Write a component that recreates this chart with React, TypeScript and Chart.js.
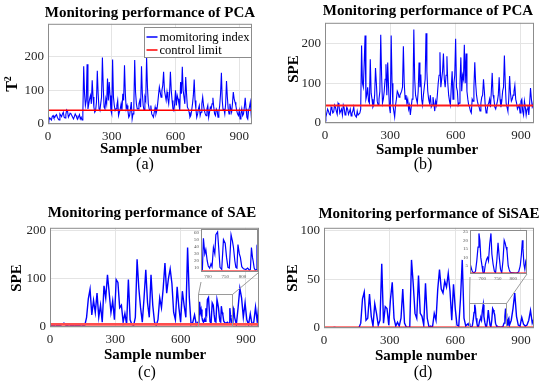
import React, { useEffect, useRef } from 'react';
import { Chart, registerables } from 'chart.js';

Chart.register(...registerables);

const SERIF = '"Liberation Serif", "Times New Roman", Times, serif';
const STEP = 8;
const X_MAX = 960;
const xTickValues = [0, 300, 600, 900];
const insetXTicks = [700, 750, 800];

// readings at sample numbers 0, 8, 16, ... 960
const pcaT2Values = [
  5, 18, 12, 25, 20, 28, 15, 30, 22, 35, 18, 42, 20, 32, 25, 15, 30, 18, 22, 15, 12,
  172, 55, 178, 60, 85, 130, 50, 40, 158, 45,
  60, 198, 50, 75, 135, 125, 40, 192, 55, 45,
  70, 35, 60, 90, 175, 45, 40, 25, 65, 30,
  190, 60, 45, 70, 172, 55, 80, 198, 60, 40,
  30, 20, 50, 40, 85, 95, 100, 155, 85, 95,
  60, 155, 70, 40, 100, 85, 60, 125, 170, 80,
  140, 50, 35, 25, 60, 132, 45, 30, 55, 35,
  80, 40, 25, 55, 35, 45, 78, 30, 45, 20,
  55, 152, 40, 30, 128, 45, 60, 35, 95, 65,
  40, 25, 15, 45, 30, 78, 20, 40, 65, 45,
];
// readings at sample numbers 4, 12, 20, ... 956
const pcaT2Mids = [
  10, 15, 22, 18, 25, 20, 12, 26, 30, 20, 28, 38, 25, 30, 20, 22, 25, 15, 28, 20,
  30,
  90, 70, 45, 75, 60, 80, 35, 65, 90, 40,
  80, 110, 45, 60, 70, 85, 30, 80, 40, 55,
  25, 45, 40, 70, 90, 55, 20, 45, 15, 55,
  95, 45, 60, 50, 90, 40, 70, 110, 45, 55,
  25, 35, 30, 60, 110, 80, 115, 100, 70, 75,
  90, 100, 45, 60, 55, 75, 40, 90, 100, 60,
  90, 45, 20, 40, 85, 70, 20, 45, 25, 60,
  55, 30, 45, 20, 50, 60, 50, 25, 40, 35,
  90, 70, 45, 60, 80, 30, 45, 60, 75, 55,
  30, 40, 30, 25, 50, 45, 15, 50, 30,
];

const pcaSpeValues = [
  5, 25, 30, 20, 35, 28, 40, 22, 45, 30, 20, 38, 25, 35, 28, 18, 30, 22, 15, 20, 25,
  195, 90, 220, 70, 55, 160, 60, 45, 138, 55,
  60, 222, 50, 80, 148, 152, 40, 220, 45, 15,
  60, 75, 70, 80, 193, 60, 50, 35, 20, 60,
  235, 70, 50, 152, 122, 45, 90, 226, 80, 50,
  40, 65, 30, 45, 100, 178, 110, 175, 90, 168,
  70, 45, 130, 100, 212, 80, 50, 165, 120, 197,
  175, 60, 40, 25, 55, 153, 70, 45, 30, 65,
  110, 45, 30, 50, 40, 126, 60, 35, 55, 115,
  40, 80, 170, 50, 30, 118, 55, 70, 95, 50,
  40, 25, 60, 20, 40, 35, 20, 88, 40, 70,
];
const pcaSpeMids = [
  15, 35, 22, 40, 25, 45, 30, 50, 25, 35, 45, 20, 40, 22, 35, 25, 40, 18, 30, 20,
  35,
  100, 150, 60, 90, 50, 75, 40, 70, 100, 45,
  80, 120, 60, 110, 70, 90, 25, 100, 30, 45,
  80, 65, 75, 90, 100, 70, 60, 45, 40, 70,
  110, 60, 80, 90, 60, 70, 110, 130, 60, 70,
  45, 50, 55, 70, 120, 90, 130, 110, 120, 100,
  55, 90, 60, 120, 90, 45, 100, 80, 110, 100,
  80, 45, 30, 60, 90, 100, 55, 40, 50, 70,
  80, 25, 45, 60, 80, 70, 40, 45, 70, 60,
  55, 90, 100, 40, 60, 75, 60, 80, 60, 35,
  45, 55, 30, 55, 20, 45, 50, 60, 45,
];

const saeSpeValues = [
  3, 4, 2, 5, 3, 4, 3, 6, 8, 4, 3, 5, 3, 4, 2, 3, 4, 3, 5, 3, 4,
  20, 58, 78, 25, 55, 30, 70, 20, 45, 10,
  85, 60, 108, 70, 30, 54, 15, 98, 92, 40,
  45, 10, 28, 5, 98, 15, 5, 3, 20, 140,
  80, 40, 10, 60, 118, 50, 20, 108, 45, 10,
  3, 15, 60, 40, 80, 132, 70, 100, 120, 90,
  30, 15, 83, 40, 10, 74, 45, 20, 164, 60,
  5, 10, 25, 5,
  30, 50, 15, 40, 60, 10, 45, 20, 57, 11, 40, 11, 43, 25, 8, 7, 7, 39, 20, 7, 39,
  20, 5, 40, 80, 60, 20, 50, 15, 5, 27, 5, 10, 41, 10, 50,
];

const sisaeSpeValues = [
  0.3, 0.2, 0.4, 0.1, 0.3, 0.2, 0.5, 0.2, 0.3, 0.4, 0.2, 0.3, 0.1, 0.4, 0.2, 0.3, 0.2, 0.4, 0.3, 0.2, 0.5,
  5, 30, 37, 8, 10, 35, 12, 2, 25, 15,
  3, 8, 66, 5, 22, 20, 3, 30, 47, 10,
  2, 6, 2, 10, 40, 5, 1, 0.5, 1, 70,
  45, 15, 10, 54, 15, 12, 3, 46, 10, 1,
  2, 1, 15, 8, 40, 60, 40, 36, 48, 42,
  56, 38, 8, 45, 20, 3, 2, 30, 70, 10,
  2, 4,
  1, 3, 24, 6, 1, 9, 8, 24, 6, 1, 18, 5, 1, 20, 18, 14, 3, 2, 1, 2, 1, 20, 10,
  3, 8, 20, 36, 12, 3, 2, 11, 4, 2, 3, 8, 18, 5, 10,
];

// finer readings inside the zoomed windows (from the insets)
const saeZoomSamples = [
  680, 684, 687, 691, 694, 698, 701, 705, 709, 712,
  716, 720, 723, 728, 731, 735, 740, 745, 750, 754,
  758, 762, 767, 771, 774, 778, 781, 784, 787, 791,
  794, 798, 803, 810, 815, 820, 823, 826, 829, 831,
  834, 837, 840, 842, 845,
];
const saeZoomValues = [
  10, 8, 52, 30, 36, 20, 13, 10, 16, 12,
  39, 30, 57, 61, 40, 11, 8, 50, 45, 25,
  11, 10, 57, 48, 39, 20, 11, 10, 43, 30,
  25, 12, 9, 8, 10, 7, 8, 39, 25, 20,
  10, 7, 8, 39, 35,
];

const sisaeZoomSamples = [
  660, 663, 667, 670, 674, 678, 682, 686, 689, 692,
  695, 699, 702, 706, 710, 714, 717, 720, 724, 728,
  731, 735, 739, 743, 747, 751, 755, 759, 763, 767,
  771, 774, 777, 780, 784, 787, 790, 795, 800, 806,
  812, 818, 823, 827, 830, 832, 835, 838, 841, 845,
];
const sisaeZoomValues = [
  3, 4.6, 2, 1.3, 1, 2, 8, 16, 24, 20,
  10, 5, 1.3, 1, 6, 9, 10, 8, 18, 24,
  12, 6, 2, 1, 8, 18.5, 10, 3, 1, 8,
  20, 18.5, 16, 14, 5, 3, 1.5, 1, 1, 0.8,
  1, 1.5, 5, 12, 20, 15, 6, 3, 8, 10,
];

const pcaT2Limit = 41;
const pcaSpeLimit = 44;
const saeLimit = 5.5;
const sisaeLimit = 0.6;

const legendLabels = ['momitoring index', 'control limit'];

type Pt = { x: number; y: number };

function uniformPoints(vals: number[]): Pt[] {
  return vals.map((v, i) => ({ x: i * STEP, y: v }));
}
function withMids(vals: number[], mids: number[]): Pt[] {
  const pts = uniformPoints(vals);
  mids.forEach((v, i) => pts.push({ x: STEP / 2 + i * STEP, y: v }));
  return pts.sort((a, b) => a.x - b.x);
}
function withDetail(vals: number[], dx: number[], dy: number[]): Pt[] {
  const lo = dx[0];
  const hi = dx[dx.length - 1];
  const pts = uniformPoints(vals).filter((p) => p.x < lo || p.x > hi);
  dx.forEach((x, i) => pts.push({ x, y: dy[i] }));
  return pts.sort((a, b) => a.x - b.x);
}

const BLUE = '#0000ff';
const FRAME = '#8c8c8c';
const GRID = '#e4e4e4';
const TICK_COLOR = '#262626';

const YW = 34;
const XH = 22;
const PADT = 8;
const PADR = 8;

type Panel = {
  key: string;
  plot: { l: number; t: number; r: number; b: number };
  points: Pt[];
  limit: number;
  yMin: number;
  yMax: number;
  yTicks: number[];
  blueWidth: number;
  redColor: string;
  redWidth: number;
  legend?: boolean;
  zoom?: { x0: number; x1: number; y1: number; leftTarget: [number, number]; rightTarget: [number, number] };
};

type Inset = {
  key: string;
  plot: { l: number; t: number; r: number; b: number };
  points: Pt[];
  limit: number;
  xMin: number;
  xMax: number;
  yMin: number;
  yMax: number;
  yTicks: number[];
  redColor: string;
  redWidth: number;
};

const saePoints = withDetail(saeSpeValues, saeZoomSamples, saeZoomValues);
const sisaePoints = withDetail(sisaeSpeValues, sisaeZoomSamples, sisaeZoomValues);

const panels: Panel[] = [
  {
    key: 'a', plot: { l: 48, t: 20, r: 252, b: 124 }, points: withMids(pcaT2Values, pcaT2Mids), limit: pcaT2Limit,
    yMin: 0, yMax: 298, yTicks: [0, 100, 200], blueWidth: 1.1, redColor: '#ff0000', redWidth: 1.5, legend: true,
  },
  {
    key: 'b', plot: { l: 325, t: 19, r: 534, b: 123 }, points: withMids(pcaSpeValues, pcaSpeMids), limit: pcaSpeLimit,
    yMin: 0, yMax: 252, yTicks: [0, 100, 200], blueWidth: 1.1, redColor: '#ff1a1a', redWidth: 1.8,
  },
  {
    key: 'c', plot: { l: 50, t: 224, r: 259, b: 327 }, points: saePoints, limit: saeLimit,
    yMin: 0, yMax: 205, yTicks: [0, 100, 200], blueWidth: 1.4, redColor: '#ff4d4d', redWidth: 2.6,
    zoom: { x0: 678, x1: 837, y1: 68, leftTarget: [201, 282], rightTarget: [258, 273] },
  },
  {
    key: 'd', plot: { l: 324, t: 224, r: 534, b: 328 }, points: sisaePoints, limit: sisaeLimit,
    yMin: 0, yMax: 103, yTicks: [0, 50, 100], blueWidth: 1.4, redColor: '#ff0000', redWidth: 2,
    zoom: { x0: 661, x1: 834, y1: 26, leftTarget: [470, 277], rightTarget: [527, 274] },
  },
];

const insets: Inset[] = [
  {
    key: 'ci', plot: { l: 201, t: 227, r: 258, b: 272 }, points: saePoints, limit: saeLimit,
    xMin: 680, xMax: 845, yMin: 4.5, yMax: 65, yTicks: [10, 20, 30, 40, 50, 60], redColor: '#ff4d4d', redWidth: 2.2,
  },
  {
    key: 'di', plot: { l: 470, t: 228, r: 527, b: 274 }, points: sisaePoints, limit: sisaeLimit,
    xMin: 660, xMax: 845, yMin: 0.3, yMax: 26, yTicks: [5, 10, 15, 20, 25], redColor: '#ff0000', redWidth: 1.8,
  },
];

function decorPlugin(p: Panel, canvasLeft: number, canvasTop: number) {
  return {
    id: 'decor' + p.key,
    afterDatasetsDraw(chart: any) {
      const { ctx, chartArea: a, scales } = chart;
      ctx.save();
      ctx.strokeStyle = FRAME;
      ctx.lineWidth = 1;
      ctx.strokeRect(a.left + 0.5, a.top + 0.5, a.right - a.left - 1, a.bottom - a.top - 1);
      if (p.zoom) {
        const z = p.zoom;
        const xl = Math.round(scales.x.getPixelForValue(z.x0)) + 0.5;
        const xr = Math.round(scales.x.getPixelForValue(z.x1)) + 0.5;
        const yt = Math.round(scales.y.getPixelForValue(z.y1)) + 0.5;
        const yb = a.bottom - 0.5;
        ctx.strokeStyle = '#9a9a9a';
        ctx.strokeRect(xl, yt, xr - xl, yb - yt);
        ctx.beginPath();
        ctx.moveTo(xl, yt);
        ctx.lineTo(z.leftTarget[0] - canvasLeft, z.leftTarget[1] - canvasTop);
        ctx.moveTo(xr, yt);
        ctx.lineTo(z.rightTarget[0] - canvasLeft, z.rightTarget[1] - canvasTop);
        ctx.stroke();
      }
      if (p.legend) {
        const w = 107;
        const h = 30;
        const lx = Math.round(a.right - 1 - w) + 0.5;
        const ty = Math.round(a.top + 3) + 0.5;
        ctx.fillStyle = '#ffffff';
        ctx.fillRect(lx, ty, w, h);
        ctx.strokeStyle = FRAME;
        ctx.strokeRect(lx, ty, w, h);
        const colors = chart.data.datasets.map((d: any) => d.borderColor);
        const rows = [ty + 9.5, ty + 22.5];
        ctx.font = '12.5px ' + SERIF;
        ctx.textBaseline = 'middle';
        ctx.textAlign = 'left';
        legendLabels.forEach((label, i) => {
          ctx.strokeStyle = colors[i];
          ctx.lineWidth = 1.5;
          ctx.beginPath();
          ctx.moveTo(lx + 2, rows[i]);
          ctx.lineTo(lx + 13, rows[i]);
          ctx.stroke();
          ctx.fillStyle = '#000000';
          ctx.fillText(label, lx + 15, rows[i] + 0.5);
        });
      }
      ctx.restore();
    },
  };
}

function buildMainConfig(p: Panel, canvasLeft: number, canvasTop: number): any {
  const tickFont = { family: SERIF, size: 13 };
  return {
    type: 'line',
    data: {
      datasets: [
        { data: p.points, borderColor: BLUE, borderWidth: p.blueWidth, pointRadius: 0, tension: 0, fill: false, order: 2 },
        { data: [{ x: 0, y: p.limit }, { x: X_MAX, y: p.limit }], borderColor: p.redColor, borderWidth: p.redWidth, pointRadius: 0, fill: false, order: 1 },
      ],
    },
    options: {
      animation: false,
      responsive: false,
      devicePixelRatio: 1,
      events: [],
      layout: { padding: { left: 0, top: PADT, right: PADR, bottom: 0 } },
      plugins: { legend: { display: false }, tooltip: { enabled: false }, title: { display: false } },
      scales: {
        x: {
          type: 'linear', min: 0, max: X_MAX,
          afterFit: (s: any) => { s.height = XH; },
          afterBuildTicks: (s: any) => { s.ticks = xTickValues.map((v) => ({ value: v })); },
          ticks: { font: tickFont, color: TICK_COLOR, padding: 5, maxRotation: 0, autoSkip: false },
          grid: { color: GRID, drawTicks: false, lineWidth: 1 },
          border: { display: false },
        },
        y: {
          type: 'linear', min: p.yMin, max: p.yMax,
          afterFit: (s: any) => { s.width = YW; },
          afterBuildTicks: (s: any) => { s.ticks = p.yTicks.map((v) => ({ value: v })); },
          ticks: { font: tickFont, color: TICK_COLOR, padding: 4, autoSkip: false },
          grid: { color: GRID, drawTicks: false, lineWidth: 1 },
          border: { display: false },
        },
      },
    },
    plugins: [decorPlugin(p, canvasLeft, canvasTop)],
  };
}

const IYW = 14;
const IXH = 11;
const IPT = 3;
const IPR = 3;

function buildInsetConfig(s: Inset): any {
  const tickFont = { family: SERIF, size: 5 };
  return {
    type: 'line',
    data: {
      datasets: [
        { data: s.points, borderColor: BLUE, borderWidth: 1.2, pointRadius: 0, tension: 0, fill: false, order: 2 },
        { data: [{ x: s.xMin, y: s.limit }, { x: s.xMax, y: s.limit }], borderColor: s.redColor, borderWidth: s.redWidth, pointRadius: 0, fill: false, order: 1 },
      ],
    },
    options: {
      animation: false,
      responsive: false,
      devicePixelRatio: 1,
      events: [],
      layout: { padding: { left: 0, top: IPT, right: IPR, bottom: 0 } },
      plugins: { legend: { display: false }, tooltip: { enabled: false } },
      scales: {
        x: {
          type: 'linear', min: s.xMin, max: s.xMax,
          afterFit: (sc: any) => { sc.height = IXH; },
          afterBuildTicks: (sc: any) => { sc.ticks = insetXTicks.map((v) => ({ value: v })); },
          ticks: { font: tickFont, color: '#555555', padding: 2, maxRotation: 0, autoSkip: false },
          grid: { display: false, drawTicks: false },
          border: { display: false },
        },
        y: {
          type: 'linear', min: s.yMin, max: s.yMax,
          afterFit: (sc: any) => { sc.width = IYW; },
          afterBuildTicks: (sc: any) => { sc.ticks = s.yTicks.map((v) => ({ value: v })); },
          ticks: { font: tickFont, color: '#555555', padding: 2, autoSkip: false },
          grid: { display: false, drawTicks: false },
          border: { display: false },
        },
      },
    },
    plugins: [
      {
        id: 'insetDecor' + s.key,
        beforeDatasetsDraw(chart: any) {
          const { ctx, chartArea: a } = chart;
          ctx.save();
          ctx.fillStyle = '#ffffff';
          ctx.fillRect(a.left, a.top, a.right - a.left, a.bottom - a.top);
          ctx.restore();
        },
        afterDatasetsDraw(chart: any) {
          const { ctx, chartArea: a } = chart;
          ctx.save();
          ctx.strokeStyle = '#8c8c8c';
          ctx.lineWidth = 1;
          ctx.strokeRect(a.left + 0.5, a.top + 0.5, a.right - a.left - 1, a.bottom - a.top - 1);
          ctx.restore();
        },
      },
    ],
  };
}

function PanelChart({ panel }: { panel: Panel }) {
  const ref = useRef<HTMLCanvasElement>(null);
  const { l, t, r, b } = panel.plot;
  const left = l - YW;
  const top = t - PADT;
  const width = r - l + YW + PADR;
  const height = b - t + PADT + XH;
  useEffect(() => {
    const chart = new Chart(ref.current as HTMLCanvasElement, buildMainConfig(panel, left, top));
    return () => chart.destroy();
  }, []);
  return <canvas ref={ref} width={width} height={height} style={{ position: 'absolute', left, top, width, height }} />;
}

function InsetChart({ inset }: { inset: Inset }) {
  const ref = useRef<HTMLCanvasElement>(null);
  const { l, t, r, b } = inset.plot;
  const left = l - IYW;
  const top = t - IPT;
  const width = r - l + IYW + IPR;
  const height = b - t + IPT + IXH;
  useEffect(() => {
    const chart = new Chart(ref.current as HTMLCanvasElement, buildInsetConfig(inset));
    return () => chart.destroy();
  }, []);
  return <canvas ref={ref} width={width} height={height} style={{ position: 'absolute', left, top, width, height }} />;
}

function Label({ x, y, size, bold, rotate, children }: { x: number; y: number; size: number; bold?: boolean; rotate?: boolean; children: React.ReactNode }) {
  return (
    <div
      style={{
        position: 'absolute',
        left: x,
        top: y,
        transform: 'translate(-50%, -50%)' + (rotate ? ' rotate(-90deg)' : ''),
        fontFamily: SERIF,
        fontSize: size,
        fontWeight: bold ? 'bold' : 'normal',
        lineHeight: 1,
        whiteSpace: 'nowrap',
        color: '#000',
      }}
    >
      {children}
    </div>
  );
}

export default function App() {
  return (
    <div style={{ position: 'absolute', left: 0, top: 0, width: 550, height: 383, background: '#ffffff', overflow: 'hidden' }}>
      {panels.map((p) => <PanelChart key={p.key} panel={p} />)}
      {insets.map((s) => <InsetChart key={s.key} inset={s} />)}

      <Label x={150} y={12} size={15} bold>Monitoring performance of PCA</Label>
      <Label x={428} y={10} size={15} bold>Monitoring performance of PCA</Label>
      <Label x={152} y={212} size={15} bold>Monitoring performance of SAE</Label>
      <Label x={429} y={213} size={15} bold>Monitoring performance of SiSAE</Label>

      <Label x={151} y={148} size={15} bold>Sample number</Label>
      <Label x={427} y={149} size={15} bold>Sample number</Label>
      <Label x={155} y={354} size={15} bold>Sample number</Label>
      <Label x={426} y={355} size={15} bold>Sample number</Label>

      <Label x={145} y={164} size={16}>(a)</Label>
      <Label x={423} y={164} size={16}>(b)</Label>
      <Label x={147} y={372} size={16}>(c)</Label>
      <Label x={423} y={372} size={16}>(d)</Label>

      <Label x={12} y={84} size={16} bold rotate>T<sup style={{ fontSize: 10, lineHeight: 0 }}>2</sup></Label>
      <Label x={293} y={69} size={15} bold rotate>SPE</Label>
      <Label x={16} y={278} size={15} bold rotate>SPE</Label>
      <Label x={292} y={278} size={15} bold rotate>SPE</Label>
    </div>
  );
}
